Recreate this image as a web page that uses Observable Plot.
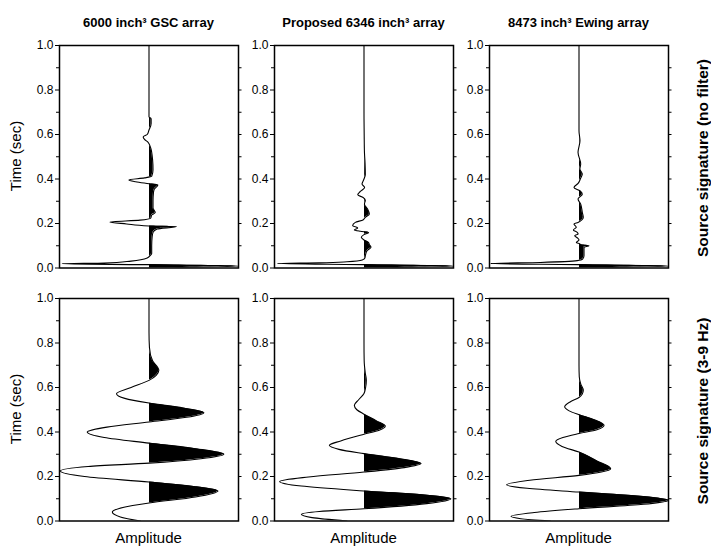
<!DOCTYPE html>
<html>
<head>
<meta charset="utf-8">
<script src="https://cdn.jsdelivr.net/npm/d3@7"></script>
<script src="https://cdn.jsdelivr.net/npm/@observablehq/plot@0.6"></script>
<style>
  html, body { margin: 0; padding: 0; background: white; }
  #chart { position: relative; width: 711px; height: 546px; background: white; font-family: "Liberation Sans", Arial, Helvetica, sans-serif; color: black; overflow: hidden; }
  .lbl { position: absolute; white-space: nowrap; transform: translate(-50%, -50%); line-height: 1; }
  .rot { transform: translate(-50%, -50%) rotate(-90deg); }
  .panel { position: absolute; }
</style>
</head>
<body>
<div id="chart"></div>
<script>
// ---------- data ----------
const columnTitles = ["6000 inch\u00B3 GSC array", "Proposed 6346 inch\u00B3 array", "8473 inch\u00B3 Ewing array"];
const rowTitles = ["Source signature (no filter)", "Source signature (3-9 Hz)"];
const yLabel = "Time (sec)";
const xLabel = "Amplitude";
const yMajor = [0.0, 0.2, 0.4, 0.6, 0.8, 1.0];
const yMinor = [0.1, 0.3, 0.5, 0.7, 0.9];
const yRight = [0.1, 0.2, 0.3, 0.4, 0.5, 0.6, 0.7, 0.8, 0.9];
const timeDomain = [0, 1];
const ampDomain = [-1, 1];

// [time (s), amplitude] — unfiltered signatures
const gscRaw = [
  [0.000, 0], [0.009, 1.0], [0.015, 0], [0.019, -0.97], [0.022, -0.5], [0.031, -0.2], [0.045, -0.02],
  [0.055, 0.01], [0.065, 0.03], [0.10, 0.03], [0.14, 0.035], [0.16, 0.045], [0.175, 0.09],
  [0.186, 0.307], [0.189, 0], [0.198, -0.25], [0.207, -0.438], [0.215, -0.1], [0.225, 0.02],
  [0.238, 0.03], [0.249, 0.07], [0.27, 0.045], [0.30, 0.045], [0.34, 0.05], [0.355, 0.06],
  [0.373, 0.099], [0.379, 0.0], [0.388, -0.15], [0.396, -0.225], [0.405, -0.05], [0.412, 0.03],
  [0.442, 0.045], [0.487, 0.04], [0.539, 0.02], [0.55, 0.01], [0.565, -0.01], [0.578, -0.05],
  [0.589, -0.065], [0.60, -0.02], [0.62, 0.0], [0.65, 0.024], [0.67, 0.024], [0.68, 0.0], [1.0, 0]
];
const proposedRaw = [
  [0.000, 0], [0.009, 1.0], [0.015, 0], [0.020, -0.97], [0.023, -0.5], [0.028, -0.19], [0.036, -0.02],
  [0.045, 0.01], [0.055, 0.015], [0.078, 0.034], [0.093, 0.078], [0.105, 0.06], [0.115, 0.05],
  [0.126, 0.0], [0.138, -0.03], [0.150, 0.0], [0.160, 0.052], [0.165, -0.04], [0.171, -0.108],
  [0.180, -0.07], [0.190, -0.127], [0.205, -0.097], [0.216, -0.011], [0.228, 0.015], [0.243, 0.06],
  [0.265, 0.04], [0.287, 0.005], [0.305, 0.015], [0.317, -0.01], [0.329, -0.07], [0.344, -0.041],
  [0.362, 0.007], [0.377, -0.022], [0.40, 0.0], [0.42, 0.015], [0.47, 0.012], [0.52, 0.005],
  [0.60, 0.002], [0.70, 0], [1.0, 0]
];
const ewingRaw = [
  [0.000, 0], [0.009, 1.0], [0.015, 0], [0.020, -0.99], [0.025, -0.43], [0.033, -0.02],
  [0.040, 0.04], [0.055, 0.056], [0.093, 0.056], [0.100, 0.112], [0.104, 0.02], [0.108, 0.01],
  [0.115, -0.03], [0.126, 0.0], [0.136, -0.02], [0.145, -0.048], [0.153, -0.01], [0.160, -0.02],
  [0.171, -0.063], [0.183, -0.03], [0.198, -0.056], [0.205, -0.011], [0.228, 0.048], [0.25, 0.037],
  [0.287, 0.019], [0.31, -0.011], [0.332, 0.037], [0.347, 0.01], [0.362, -0.056], [0.38, -0.01],
  [0.40, 0.015], [0.422, 0.037], [0.445, 0.01], [0.467, 0.019], [0.52, -0.011], [0.572, 0.011],
  [0.617, 0.0], [1.0, 0]
];
// [time (s), amplitude] — 3-9 Hz filtered signatures
const gscFilt = [
  [0.000, -0.095], [0.018, -0.32], [0.040, -0.41], [0.062, -0.28], [0.081, 0], [0.108, 0.52],
  [0.135, 0.77], [0.155, 0.50], [0.175, 0], [0.200, -0.72], [0.225, -0.99], [0.245, -0.68],
  [0.260, 0], [0.280, 0.58], [0.300, 0.836], [0.325, 0.52], [0.350, 0], [0.375, -0.50],
  [0.400, -0.69], [0.422, -0.47], [0.445, 0], [0.466, 0.42], [0.487, 0.613], [0.508, 0.38],
  [0.530, 0], [0.551, -0.27], [0.572, -0.363], [0.600, -0.20], [0.632, 0], [0.655, 0.08],
  [0.677, 0.11], [0.72, 0.04], [0.78, 0.005], [0.85, 0], [1.0, 0]
];
const proposedFilt = [
  [0.000, -0.19], [0.015, -0.58], [0.030, -0.70], [0.043, -0.50], [0.055, 0], [0.078, 0.70],
  [0.100, 0.97], [0.118, 0.65], [0.135, 0], [0.157, -0.70], [0.178, -0.942], [0.198, -0.62],
  [0.220, 0], [0.240, 0.45], [0.258, 0.637], [0.280, 0.40], [0.303, 0], [0.322, -0.28],
  [0.340, -0.387], [0.360, -0.26], [0.390, 0], [0.408, 0.17], [0.427, 0.238], [0.450, 0.14],
  [0.480, 0], [0.500, -0.08], [0.520, -0.108], [0.545, -0.06], [0.573, 0], [0.60, 0.018],
  [0.633, 0.026], [0.663, 0.015], [0.72, 0.002], [0.80, 0], [1.0, 0]
];
const ewingFilt = [
  [0.000, -0.32], [0.010, -0.65], [0.021, -0.76], [0.038, -0.50], [0.055, 0], [0.075, 0.72],
  [0.093, 1.0], [0.112, 0.65], [0.130, 0], [0.147, -0.58], [0.163, -0.808], [0.183, -0.55],
  [0.205, 0], [0.220, 0.25], [0.235, 0.354], [0.270, 0.20], [0.310, 0], [0.335, -0.19],
  [0.358, -0.26], [0.375, -0.18], [0.393, 0], [0.410, 0.20], [0.430, 0.28], [0.455, 0.17],
  [0.478, 0], [0.495, -0.11], [0.513, -0.16], [0.535, -0.10], [0.555, 0], [0.570, 0.035],
  [0.588, 0.048], [0.615, 0.02], [0.648, 0.003], [0.70, 0], [1.0, 0]
];
const traces = [[gscRaw, proposedRaw, ewingRaw], [gscFilt, proposedFilt, ewingFilt]];

// ---------- layout ----------
const frameLefts = [59, 274, 489];
const frameTops = [45, 298];
const frameW = 179, frameH = 222.5;
const ML = 32, MR = 5, MT = 4, MB = 4;
const W = ML + frameW + MR, H = MT + frameH + MB;

const chart = document.getElementById("chart");
const ns = "http://www.w3.org/2000/svg";

function addLabel(text, x, y, style, rotate) {
  const d = document.createElement("div");
  d.className = "lbl" + (rotate ? " rot" : "");
  d.textContent = text;
  d.style.left = x + "px";
  d.style.top = y + "px";
  Object.assign(d.style, style);
  chart.appendChild(d);
}

traces.forEach((row, r) => {
  row.forEach((trace, c) => {
    const rows = trace.map(([t, a]) => ({t, a}));
    const p = Plot.plot({
      width: W, height: H,
      marginLeft: ML, marginRight: MR, marginTop: MT, marginBottom: MB,
      style: {background: "transparent", overflow: "visible", fontFamily: "Liberation Sans, Arial, sans-serif", fontSize: "12px", color: "black"},
      x: {domain: ampDomain, axis: null},
      y: {domain: timeDomain, axis: null},
      marks: [
        Plot.areaX(rows, {y: "t", x: "a", fill: "black", curve: "monotone-y"}),
        Plot.lineX(rows, {y: "t", x: "a", stroke: "black", strokeWidth: 1.1, curve: "monotone-y", clip: true}),
        Plot.axisY(yMajor, {anchor: "left", tickSize: 4, tickPadding: 2, tickFormat: d3.format(".1f"), label: null, fontSize: 12, stroke: "black", fill: "black"}),
        Plot.axisY(yMinor, {anchor: "left", tickSize: 3, tickFormat: () => "", label: null, stroke: "black"}),
        Plot.axisY(yRight, {anchor: "right", tickSize: 2.5, tickFormat: () => "", label: null, stroke: "black"}),
        Plot.frame({stroke: "black", strokeWidth: 1.5})
      ]
    });
    // clip the filled area to the positive half (x >= 0) and to the frame,
    // snapping the clip edge to the pixel grid to avoid a grey sliver of the negative fill
    const x0 = Math.ceil(p.scale("x").apply(0));
    const id = `pos-clip-${r}-${c}`;
    const defs = document.createElementNS(ns, "defs");
    const cp = document.createElementNS(ns, "clipPath");
    cp.setAttribute("id", id);
    const rect = document.createElementNS(ns, "rect");
    rect.setAttribute("x", x0);
    rect.setAttribute("y", MT);
    rect.setAttribute("width", W - MR - x0);
    rect.setAttribute("height", H - MT - MB);
    cp.appendChild(rect);
    defs.appendChild(cp);
    p.insertBefore(defs, p.firstChild);
    const area = p.querySelector('g[aria-label="area"]');
    if (area) area.setAttribute("clip-path", `url(#${id})`);
    p.classList.add("panel");
    p.style.left = (frameLefts[c] - ML) + "px";
    p.style.top = (frameTops[r] - MT) + "px";
    chart.appendChild(p);
  });
});

// ---------- text ----------
columnTitles.forEach((t, c) => addLabel(t, frameLefts[c] + frameW / 2, 22, {fontWeight: "bold", fontSize: "13px"}));
rowTitles.forEach((t, r) => addLabel(t, 703, frameTops[r] + frameH / 2 + 2, {fontWeight: "bold", fontSize: "15.5px"}, true));
frameTops.forEach(top => addLabel(yLabel, 15, top + frameH / 2, {fontSize: "15px"}, true));
frameLefts.forEach(left => addLabel(xLabel, left + frameW / 2, 537, {fontSize: "15px"}));
</script>
</body>
</html>
